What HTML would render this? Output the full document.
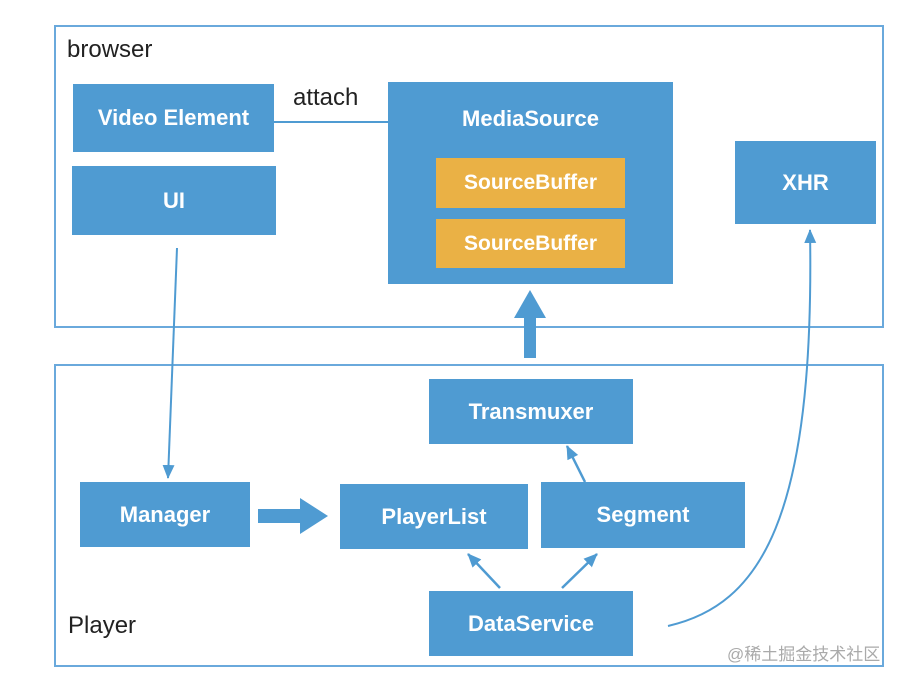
<!DOCTYPE html>
<html><head><meta charset="utf-8"><style>
body{margin:0;width:908px;height:682px;background:#fff;overflow:hidden;position:relative;font-family:"Liberation Sans",Helvetica,Arial,sans-serif}
.b{position:absolute;background:#4f9bd2;color:#fff;display:flex;align-items:center;justify-content:center;font-size:22px;font-weight:bold}
.o{position:absolute;background:#eab145;color:#fff;display:flex;align-items:center;justify-content:center;font-size:21px;font-weight:bold}
.f{position:absolute;border:2px solid #6aa9dc;box-sizing:border-box}
.t{position:absolute;color:#222;font-size:24px}
</style></head><body>
<div class="f" style="left:54px;top:25px;width:830px;height:303px"></div>
<div class="f" style="left:54px;top:364px;width:830px;height:303px"></div>
<div class="t" style="left:67px;top:36px">browser</div>
<div class="t" style="left:293px;top:84px">attach</div>
<div class="t" style="left:68px;top:612px">Player</div>
<div class="b" style="left:73px;top:84px;width:201px;height:68px">Video Element</div>
<div class="b" style="left:72px;top:166px;width:204px;height:69px">UI</div>
<div class="b" style="left:388px;top:82px;width:285px;height:202px;align-items:flex-start;padding-top:24px;box-sizing:border-box">MediaSource</div>
<div class="o" style="left:436px;top:158px;width:189px;height:50px">SourceBuffer</div>
<div class="o" style="left:436px;top:219px;width:189px;height:49px">SourceBuffer</div>
<div class="b" style="left:735px;top:141px;width:141px;height:83px">XHR</div>
<div class="b" style="left:429px;top:379px;width:204px;height:65px">Transmuxer</div>
<div class="b" style="left:80px;top:482px;width:170px;height:65px">Manager</div>
<div class="b" style="left:340px;top:484px;width:188px;height:65px">PlayerList</div>
<div class="b" style="left:541px;top:482px;width:204px;height:66px">Segment</div>
<div class="b" style="left:429px;top:591px;width:204px;height:65px">DataService</div>
<svg style="position:absolute;left:0;top:0" width="908" height="682">
<defs><marker id="a" markerWidth="8" markerHeight="8" refX="7" refY="4" orient="auto" markerUnits="userSpaceOnUse" viewBox="0 0 8 8"><path d="M0,0L8,4L0,8z" fill="#4f9bd2"/></marker>
<marker id="s" markerWidth="14" markerHeight="14" refX="13" refY="7" orient="auto" markerUnits="userSpaceOnUse"><path d="M0,1L14,7L0,13z" fill="#4f9bd2"/></marker></defs>
<g stroke="#4f9bd2" fill="none">
<line x1="274" y1="122" x2="388" y2="122" stroke-width="2"/>
<line x1="177" y1="248" x2="168" y2="478" stroke-width="2" marker-end="url(#s)"/>
<line x1="585" y1="482" x2="567" y2="446" stroke-width="2.5" marker-end="url(#s)"/>
<line x1="500" y1="588" x2="468" y2="554" stroke-width="2.5" marker-end="url(#s)"/>
<line x1="562" y1="588" x2="597" y2="554" stroke-width="2.5" marker-end="url(#s)"/>
<path d="M668,626 C760,605 815,520 810,230" stroke-width="2" marker-end="url(#s)"/>
</g>
<path d="M258,509H300V498L328,516L300,534V523H258z" fill="#4f9bd2"/>
<path d="M524,358V318H514L530,290L546,318H536V358z" fill="#4f9bd2"/>
</svg>
<div style="position:absolute;left:727px;top:640px;font-size:17px;color:#aaa;font-family:'Liberation Sans','Noto Sans CJK SC',sans-serif">@稀土掘金技术社区</div>
</body></html>
